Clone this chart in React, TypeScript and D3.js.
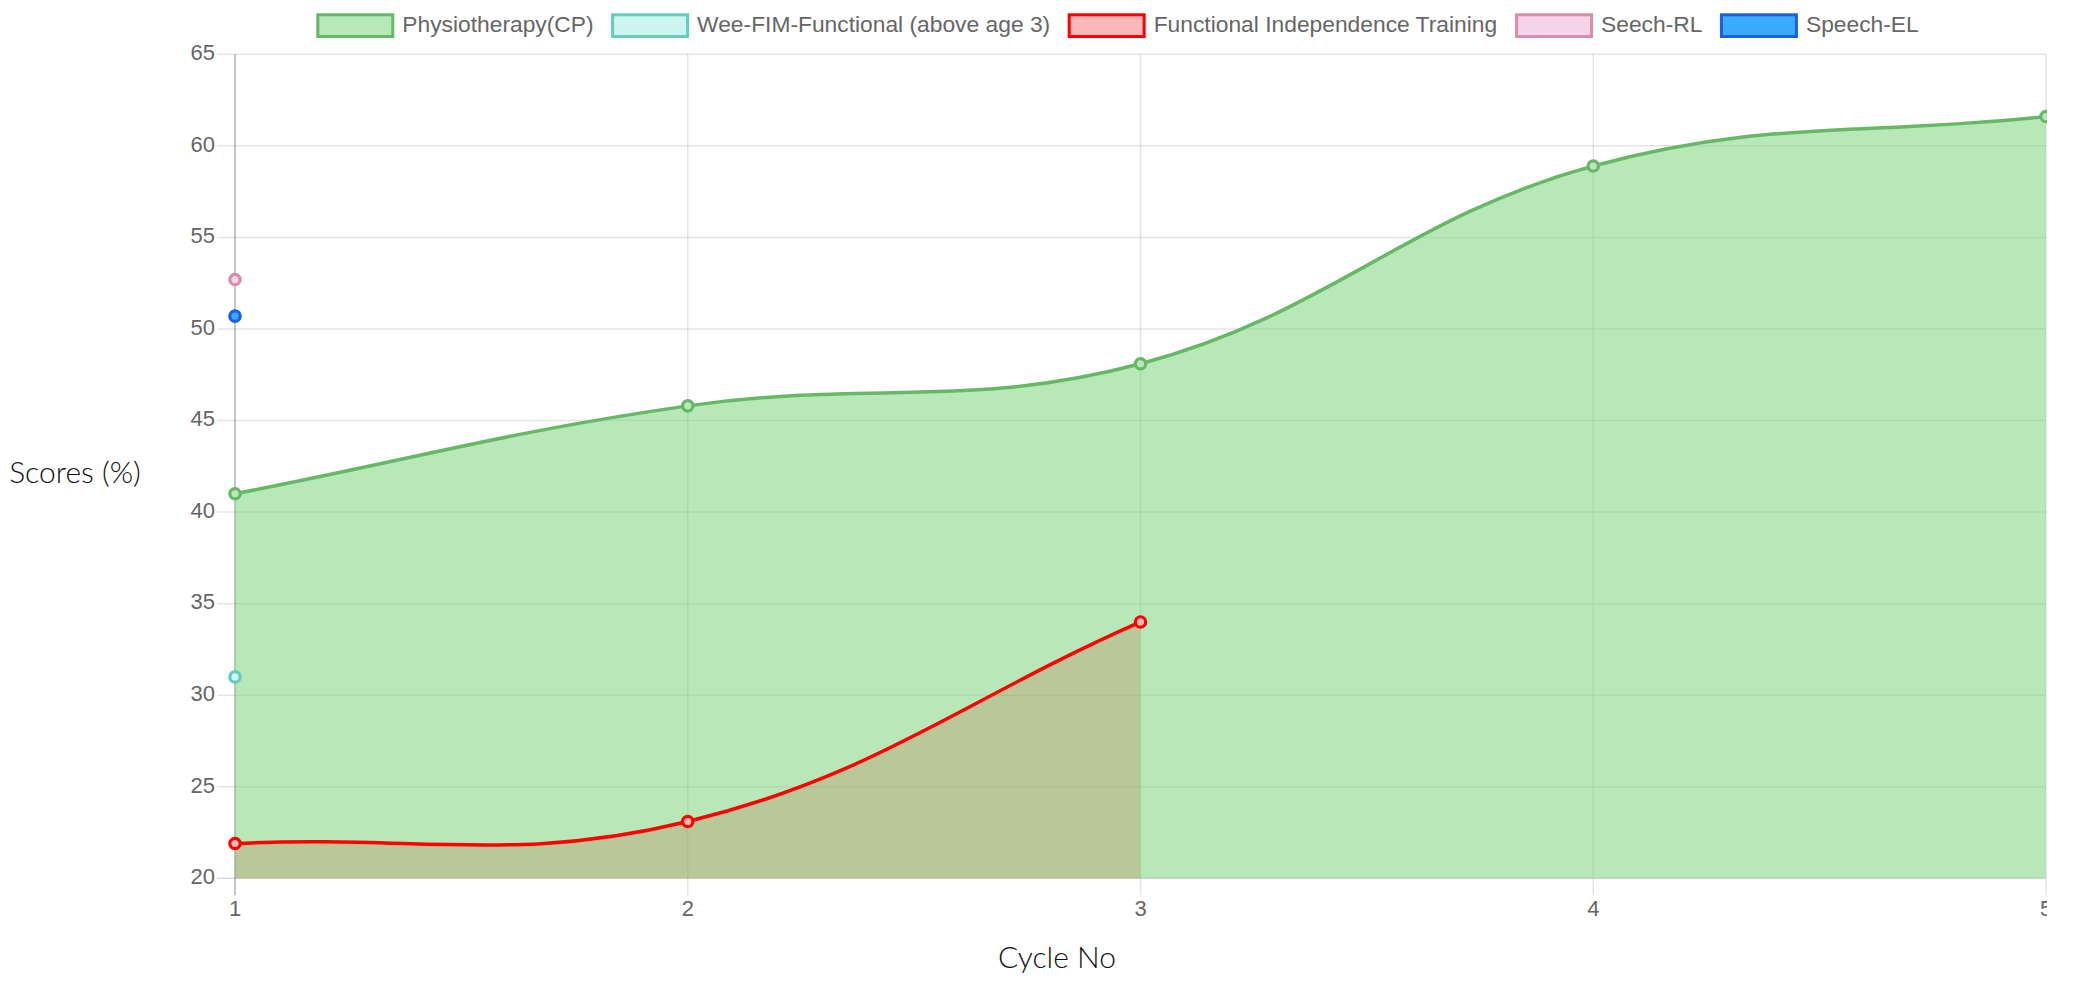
import React, { useMemo } from "react";
import * as d3 from "d3";

// ---------- data ----------
const cycles = [1, 2, 3, 4, 5];
const physioValues = [41, 45.8, 48.1, 58.9, 61.6];
const weeFimValues = [31];
const fitValues = [21.9, 23.1, 34.0];
const seechRLValues = [52.7];
const speechELValues = [50.7];
const yTickValues = [20, 25, 30, 35, 40, 45, 50, 55, 60, 65];
const seriesNames = [
  "Physiotherapy(CP)",
  "Wee-FIM-Functional (above age 3)",
  "Functional Independence Training",
  "Seech-RL",
  "Speech-EL",
];
const seriesValues = [physioValues, weeFimValues, fitValues, seechRLValues, speechELValues];
const seriesFill = [
  "rgba(126,213,126,0.55)",
  "#cbf5ee",
  "rgba(255,0,0,0.28)",
  "#f4d4e8",
  "#3aaafa",
];
const seriesPointFill = ["#b8e8b8", "#cbf5ee", "#fbb8b8", "#f4d4e8", "#3aaafa"];
const seriesStroke = ["#66b866", "#63cdbe", "#ff0000", "#da8caa", "#1e5fdc"];
const seriesFilled = [true, false, true, false, false];

// ---------- layout ----------
const W = 2073;
const H = 983;
const plotLeft = 235;
const plotRight = 2046;
const plotTop = 54.3;
const plotBottom = 878.3;
const tickFont = "'Liberation Sans', Arial, Helvetica, sans-serif";
const legendFontSize = 22.8;

function measure(text: string, font: string, fallback: number) {
  try {
    const c = document.createElement("canvas");
    const ctx = c.getContext("2d");
    if (ctx) {
      ctx.font = font;
      return ctx.measureText(text).width;
    }
  } catch (e) {}
  return fallback;
}

type Pt = { x: number; y: number };

function splinePath(pts: Pt[], close: boolean): string {
  const t = 0.4;
  const n = pts.length;
  const cps = pts.map((cur, i) => {
    const prev = pts[Math.max(0, i - 1)];
    const next = pts[Math.min(n - 1, i + 1)];
    const d01 = Math.hypot(cur.x - prev.x, cur.y - prev.y);
    const d12 = Math.hypot(next.x - cur.x, next.y - cur.y);
    let s01 = d01 / (d01 + d12);
    let s12 = d12 / (d01 + d12);
    if (isNaN(s01)) s01 = 0;
    if (isNaN(s12)) s12 = 0;
    const fa = t * s01;
    const fb = t * s12;
    const clampX = (v: number) => Math.max(plotLeft, Math.min(plotRight, v));
    const clampY = (v: number) => Math.max(plotTop, Math.min(plotBottom, v));
    return {
      px: clampX(cur.x - fa * (next.x - prev.x)),
      py: clampY(cur.y - fa * (next.y - prev.y)),
      nx: clampX(cur.x + fb * (next.x - prev.x)),
      ny: clampY(cur.y + fb * (next.y - prev.y)),
    };
  });
  const p = d3.path();
  p.moveTo(pts[0].x, pts[0].y);
  for (let i = 1; i < n; i++) {
    p.bezierCurveTo(cps[i - 1].nx, cps[i - 1].ny, cps[i].px, cps[i].py, pts[i].x, pts[i].y);
  }
  if (close) {
    p.lineTo(pts[n - 1].x, plotBottom);
    p.lineTo(pts[0].x, plotBottom);
    p.closePath();
  }
  return p.toString();
}

export default function App() {
  const x = d3.scaleLinear().domain([1, 5]).range([plotLeft, plotRight]);
  const y = d3.scaleLinear().domain([20, 65]).range([plotBottom, plotTop]);

  const series = seriesValues.map((vals) =>
    vals.map((v, i) => ({ x: x(cycles[i]), y: y(v) }))
  );

  const legend = useMemo(() => {
    const boxW = 75;
    const gap = 11;
    const itemGap = 17.5;
    const widths = seriesNames.map((s) =>
      measure(s, `${legendFontSize}px ${tickFont}`, s.length * 11)
    );
    const itemWidths = widths.map((w) => boxW + gap + w);
    const total = itemWidths.reduce((a, b) => a + b, 0) + itemGap * (seriesNames.length - 1);
    let cx = 1117.5 - total / 2;
    return itemWidths.map((iw) => {
      const item = { x: cx, boxW, gap };
      cx += iw + itemGap;
      return item;
    });
  }, []);

  const drawOrder = [4, 3, 2, 1, 0];

  return (
    <svg
      width={W}
      height={H}
      style={{ position: "absolute", left: 0, top: 0, background: "#fff" }}
    >
      <defs>
        <clipPath id="canvasClip">
          <rect x={0} y={0} width={2047} height={H} />
        </clipPath>
      </defs>
      <g clipPath="url(#canvasClip)">
        {/* legend */}
        {legend.map((it, i) => (
          <g key={seriesNames[i]}>
            <rect
              x={it.x + 1.5}
              y={14.8}
              width={it.boxW}
              height={21.7}
              fill={seriesPointFill[i]}
              stroke={seriesStroke[i]}
              strokeWidth={3}
            />
            <text
              x={it.x + it.boxW + it.gap}
              y={26}
              dominantBaseline="middle"
              fontFamily={tickFont}
              fontSize={legendFontSize}
              fill="#666"
            >
              {seriesNames[i]}
            </text>
          </g>
        ))}

        {/* horizontal grid + y ticks */}
        {yTickValues.map((v) => (
          <g key={`y${v}`}>
            <line
              x1={plotLeft - 18}
              x2={plotRight}
              y1={y(v)}
              y2={y(v)}
              stroke={v === 20 ? "rgba(0,0,0,0.15)" : "rgba(0,0,0,0.1)"}
              strokeWidth={1.5}
            />
            <text
              x={215}
              y={y(v)}
              textAnchor="end"
              dominantBaseline="middle"
              fontFamily={tickFont}
              fontSize={22}
              fill="#666"
            >
              {v}
            </text>
          </g>
        ))}

        {/* vertical grid + x ticks */}
        {cycles.map((c) => (
          <g key={`x${c}`}>
            <line
              x1={x(c)}
              x2={x(c)}
              y1={plotTop}
              y2={plotBottom + 17}
              stroke={c === 1 ? "rgba(0,0,0,0.3)" : "rgba(0,0,0,0.1)"}
              strokeWidth={1.5}
            />
            <text
              x={x(c)}
              y={910}
              textAnchor="middle"
              dominantBaseline="middle"
              fontFamily={tickFont}
              fontSize={22}
              fill="#666"
            >
              {c}
            </text>
          </g>
        ))}

        {/* fills (drawn first, reverse order) */}
        {drawOrder
          .filter((i) => seriesFilled[i] && series[i].length > 1)
          .map((i) => (
            <path key={`f${i}`} d={splinePath(series[i], true)} fill={seriesFill[i]} stroke="none" />
          ))}

        {/* lines */}
        {drawOrder
          .filter((i) => series[i].length > 1)
          .map((i) => (
            <path
              key={`l${i}`}
              d={splinePath(series[i], false)}
              fill="none"
              stroke={seriesStroke[i]}
              strokeWidth={3.5}
            />
          ))}

        {/* points */}
        {drawOrder.map((i) =>
          series[i].map((p, j) => (
            <circle
              key={`p${i}-${j}`}
              cx={p.x}
              cy={p.y}
              r={5.2}
              fill={seriesPointFill[i]}
              stroke={seriesStroke[i]}
              strokeWidth={3.2}
            />
          ))
        )}

        {/* axis titles */}
        <text
          x={75}
          y={483}
          textAnchor="middle"
          fontFamily="Lato, 'Open Sans', sans-serif"
          fontWeight={300}
          fontSize={30}
          fill="#111"
        >
          Scores (%)
        </text>
        <text
          x={1057}
          y={968}
          textAnchor="middle"
          fontFamily="Lato, 'Open Sans', sans-serif"
          fontWeight={300}
          fontSize={30}
          fill="#111"
        >
          Cycle No
        </text>
      </g>
    </svg>
  );
}
